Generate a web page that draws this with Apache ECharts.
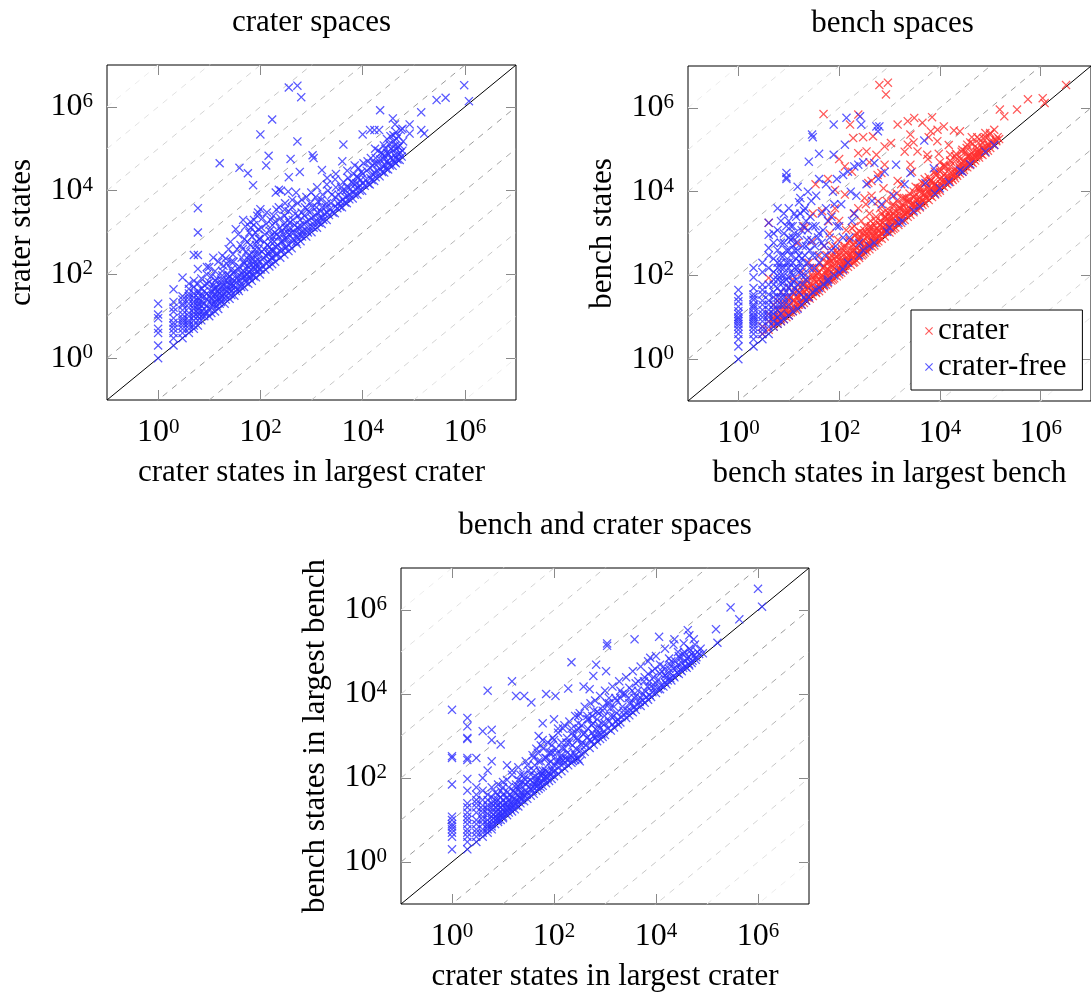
<!DOCTYPE html>
<html>
<head>
<meta charset="utf-8">
<script src="https://cdn.jsdelivr.net/npm/echarts@6/dist/echarts.min.js"></script>
<style>
  html, body { margin: 0; padding: 0; background: #fff; }
  #chart { width: 1091px; height: 994px; }
</style>
</head>
<body>
<div id="chart"></div>
<script>
// tick positions shared by every axis
var tickValues = [1, 100, 1e4, 1e6];
// offsets (in decades) of the dashed guide lines y = x * 10^k
var diagOffsets = [-7, -6, -5, -4, -3, -2, -1, 1, 2, 3, 4, 5, 6, 7];

// crater spaces: [crater states in largest crater, crater states]
var craterPts = [
  [1,1],[1,2],[1,4],[1,5],[1,9],[1,11],[1,20],
  [2,2],[2,3],[2,4],[2,5],[2,6],[2,9],[2,13],[2,22],[2,44],[2,7],[2,16],
  [3,3],[3,4],[3,5],[3,7],[3,8],[3,11],[3,14],[3,18],[3,25],[3,30],[3,84],[3,6],[3,9],[3,20],
  [4,4],[4,5],[4,6],[4,8],[4,12],[4,16],[4,20],[4,30],[4,45],[4,60],[4,7],[4,10],[4,25],[4,35],
  [5,5],[5,6],[5,8],[5,10],[5,15],[5,22],[5,35],[5,50],[5,70],[5,290],[5,12],[5,18],[5,28],
  [6,6],[6,8],[6,10],[6,14],[6,20],[6,28],[6,40],[6,60],[6,135],[6,290],[6,1000],[6,3800],[6,12],[6,17],[6,24],[6,35],
  [7,8],[8,10],[8,12],[7,18],[9,25],[8,40],[7,80],[9,150],[7,10],[7,13],[7,22],[7,30],[7,45],
  [8,15],[8,20],[8,30],[8,55],[9,12],[9,18],[9,35],[9,60],[9,100],
  [10,10],[11,12],[10,15],[11,20],[10,30],[12,45],[10,65],[11,90],[10,150],[12,250],[11,25],[11,38],[12,20],[12,30],
  [13,13],[12,17],[14,25],[13,35],[12,55],[14,80],[13,120],[13,22],[13,45],[13,70],[14,18],[14,30],[14,50],
  [15,15],[16,20],[17,28],[15,40],[16,60],[18,95],[15,200],[16,45000],[16,25],[16,35],[17,22],[17,50],[17,75],
  [18,30],[18,42],[18,120],[19,55],[21,30],[22,40],[23,65],[24,35],[24,80],[26,55],[27,40],[28,75],[29,110],[22,180],[18,280],[27,200],
  [20,20],[21,25],[19,35],[22,50],[20,70],[23,100],[19,160],[21,240],[24,400],
  [25,26],[27,32],[26,45],[28,60],[25,90],[27,130],[29,300],[26,600],
  [31,31],[33,40],[30,55],[34,80],[32,120],[30,200],[35,400],[33,1200],
  [32,48],[34,65],[36,45],[37,90],[38,130],[42,60],[44,85],[46,120],[48,180],[52,75],[55,100],[56,160],[58,230],
  [38,40],[42,50],[40,70],[44,100],[39,150],[43,250],[41,500],[37,900],[39,35000],
  [48,50],[52,65],[50,90],[55,130],[47,200],[53,350],[49,700],[51,1400],[46,2000],
  [58,60],[62,80],[60,110],[65,170],[59,280],[63,500],[61,1000],[57,26000],[64,1800],
  [62,90],[65,130],[66,210],[68,320],[74,90],[76,130],[78,200],[80,300],[82,500],[88,150],[90,220],[92,400],[94,700],[96,130],
  [45,400],[55,600],[65,1300],[75,2000],[90,3000],[80,1000],
  [68,70],[72,100],[75,150],[70,250],[78,400],[69,800],[74,1500],[72,13500],
  [82,85],[88,120],[85,180],[90,300],[84,600],[92,1200],[87,2500],
  [98,100],[103,130],[100,200],[108,350],[97,700],[105,1300],[110,2200],[100,3600],[100,220000],
  [110,160],[115,250],[118,400],[120,600],[140,200],[145,300],[150,450],[155,800],[165,250],[175,350],[185,600],[190,1000],
  [125,130],[132,180],[128,280],[136,500],[122,900],[130,1600],[134,3000],[130,40000],
  [150,155],[155,220],[148,350],[160,600],[152,1100],[158,2000],[145,68000],
  [170,175],[176,250],[168,400],[180,800],[172,1500],[170,500000],
  [195,200],[205,280],[200,450],[210,900],[198,1800],[206,3500],[200,9000],
  [210,320],[220,500],[230,800],[240,1300],[260,400],[270,600],[280,900],[290,1600],[320,450],[330,700],[340,1000],[350,2000],
  [245,250],[255,350],[250,600],[260,1100],[248,2200],[252,10000],
  [295,300],[305,420],[300,700],[310,1300],[298,2500],[304,5000],
  [355,360],[365,500],[360,900],[370,1700],[358,3200],[360,21000],[360,2.9e6],
  [380,1300],[430,700],[450,1000],[470,1500],[480,2800],[500,600],[560,900],[580,1200],[600,2000],
  [650,800],[680,1100],[700,1600],[720,2500],[750,4000],[850,1000],[880,1400],[900,2000],[920,3000],[950,5000],
  [180,2500],[230,4000],[300,3500],[420,6000],[650,6000],[500,9000],[350,9500],[230,10500],
  [410,420],[420,600],[405,1000],[430,2000],[415,4000],[390,57000],
  [520,530],[540,750],[525,1300],[550,2500],[535,5000],[530,150000],[530,3.2e6],
  [610,620],[620,900],[600,1500],[640,3000],[590,28000],[630,1.7e6],
  [790,800],[810,1100],[800,1800],[820,3500],[795,7000],
  [1000,1020],[1030,1400],[1010,2200],[1050,4000],[990,9000],[1050,70000],[1100,60000],
  [1100,1300],[1150,1800],[1200,2500],[1250,4000],[1400,1700],[1450,2300],[1500,3200],[1550,6000],[1700,2000],[1800,2800],[1900,4000],
  [1280,1300],[1320,1800],[1300,3000],[1340,5500],[1290,12000],
  [1580,1600],[1620,2300],[1600,4000],[1650,8000],[1600,31000],
  [1980,2000],[2050,3000],[2000,5000],[2100,10000],[2020,20000],
  [2200,2600],[2300,3600],[2400,5000],[2500,8000],[2600,3000],[3200,3800],[3300,5000],[3400,8000],[3600,4200],[3700,5500],[3800,12000],
  [2850,2900],[2950,4200],[2900,7000],[3000,12000],[2900,18500],
  [3950,4000],[4100,6000],[4000,10000],[4200,16000],[4000,50000],[4200,126000],
  [4500,5200],[4600,7000],[4700,10000],[5500,6200],[5600,8000],[5800,11000],[6000,16000],[7000,8000],[7200,11000],[7500,15000],[7800,22000],
  [8800,10000],[9000,13000],[9200,18000],[9500,28000],[1200,7000],[2000,14000],[3000,25000],[5000,30000],[7000,40000],
  [4900,5000],[5100,7500],[5000,12000],[5200,20000],
  [6400,6500],[6600,9000],[6500,15000],[6700,25000],
  [7900,8000],[8100,12000],[8000,20000],[8300,35000],
  [9800,10000],[10200,15000],[10000,25000],[10400,45000],[10000,220000],
  [11000,13000],[11500,18000],[12000,30000],[12500,50000],[13000,14500],[15000,18000],[15500,25000],[16000,40000],
  [13800,14000],[14200,20000],[14000,35000],[14500,60000],[14000,280000],
  [16800,17000],[17200,26000],[17000,45000],[17500,100000],[17000,280000],
  [18000,21000],[19000,30000],[20000,45000],[20000,90000],[24000,28000],[25000,38000],[26000,55000],[26000,120000],
  [21500,22000],[22500,32000],[22000,55000],[23000,80000],[22000,830000],[21000,280000],
  [26500,27000],[27500,40000],[27000,65000],[28000,100000],
  [29000,33000],[30000,50000],[30000,80000],[34000,40000],[35000,60000],[36000,100000],
  [31500,32000],[32500,45000],[32000,75000],[33000,130000],
  [38500,39000],[39500,55000],[39000,90000],[40000,150000],[39000,530000],[40000,210000],
  [42000,48000],[42000,70000],[43000,120000],[48000,55000],[50000,75000],[50000,110000],[58000,65000],[60000,90000],[62000,150000],
  [45000,250000],[35000,200000],[30000,170000],[50000,200000],[60000,300000],[18000,60000],[25000,75000],
  [44500,45000],[45500,60000],[45000,100000],[46000,170000],[43000,380000],
  [53000,54000],[55000,80000],[54000,120000],[56000,280000],
  [83000,380000],[83000,230000],[140000,740000],[140000,280000],[160000,230000],
  [280000,1.45e6],[420000,1.65e6],[970000,3.3e6],[1.2e6,1.37e6]
];

// bench spaces, crater: [bench states in largest bench, bench states]
var benchCraterPts = [
  [3,4],[3,6],[4,5],[4,8],[4,12],[4,87],[4,1800],[5,6],[5,10],[5,20],
  [6,7],[6,9],[6,14],[6,25],[7,8],[7,12],[7,20],[7,40],[8,9],[8,15],
  [9,10],[9,14],[9,30],[10,11],[10,18],[10,50],[11,13],[12,14],[12,25],[12,80],
  [14,15],[14,22],[14,40],[15,17],[16,30],[16,60],[18,20],[18,35],[18,120],[20,22],
  [20,40],[20,70],[22,25],[24,30],[24,50],[25,200],[26,28],[28,45],[30,32],[30,60],
  [30,100],[34,15000],[35,38],[35,70],[36,150],[40,42],[40,80],[40,300],[45,48],[45,100],
  [49,710000],[50,55],[50,90],[50,500],[55,60],[55,130],[60,65],[60,100],[60,200],[65,1000],
  [70,75],[70,120],[70,300],[75,80],[80,85],[80,150],[83,11000],[85,400],[90,95],[90,200],
  [100,105],[100,150],[100,250],[100,2000],[110,115],[110,180],[120,130],[120,300],[130,40000],[130,140],
  [140,200],[150,160],[150,250],[150,600],[165,400000],[170,180],[180,300],[190,200],[200,210],[200,400],
  [200,1500],[220,230],[240,690000],[240,83000],[240,300],[250,260],[250,500],[280,300],[300,320],[300,700],
  [320,350],[350,380],[350,1000],[380,16000],[400,420],[400,600],[400,3000],[450,480],[500,520],[500,900],
  [550,76000],[550,600],[600,650],[600,1200],[630,3.5e6],[690,28000],[700,750],[800,44000],[800,850],[850,2.1e6],
  [930,4e6],[900,1500],[1000,1050],[1000,2000],[1070,145000],[1100,1200],[1200,1300],[1200,3000],[1300,1400],[1450,400000],
  [1500,1600],[1500,2500],[1700,1800],[1800,5000],[2000,2100],[2000,3000],[2300,480000],[2300,2500],[2500,4000],[2600,2800],
  [3000,3200],[3000,5000],[3000,10000],[3500,3700],[3500,6000],[4000,4200],[4000,7000],[4500,440000],[4500,4800],[5000,5300],
  [5000,9000],[5000,20000],[6000,6300],[6000,10000],[7000,600000],[7000,7400],[7000,12000],[8000,8500],[8000,15000],[8000,30000],
  [9000,9500],[10000,10500],[10000,20000],[10000,50000],[12000,360000],[12000,13000],[12000,25000],[14000,15000],[14000,30000],[16000,17000],
  [16000,40000],[18000,19000],[19000,290000],[20000,21000],[20000,35000],[22000,24000],[22000,60000],[25000,275000],[25000,27000],[25000,45000],
  [28000,30000],[28000,100000],[30000,33000],[30000,55000],[35000,38000],[35000,70000],[40000,43000],[40000,150000],[45000,48000],[45000,90000],
  [50000,55000],[50000,120000],[55000,200000],[60000,65000],[60000,100000],[70000,75000],[70000,150000],[80000,85000],[80000,200000],[90000,95000],
  [100000,110000],[100000,250000],[120000,130000],[120000,300000],[155000,910000],[190000,630000],[340000,910000],[560000,1.6e6],[1.1e6,1.7e6],[1.2e6,1.3e6],[3.2e6,3.5e6],
  [130,170],[160,220],[190,260],[230,300],[270,380],[330,420],[380,520],[450,600],[520,700],[620,800],
  [700,1000],[820,1100],[950,1300],[1100,1600],[1300,1800],[1600,2200],[1900,2600],[2200,3200],[2700,3800],[3200,4500],
  [3800,5500],[4400,6200],[5200,7500],[6200,8800],[7400,10000],[8800,12500],[10500,15000],[12500,18000],[15000,21000],[18000,26000],
  [21000,30000],[25000,36000],[30000,42000],[36000,50000],[42000,60000],[50000,70000],[60000,85000],[75000,100000],[90000,130000],[110000,160000],
  [150,300],[250,700],[400,1100],[650,1600],[1000,2500],[1600,4000],[2500,6500],[4000,12000],[6500,18000],[10000,30000],
  [5,7],[5,9],[6,8],[6,11],[7,9],[7,15],[8,11],[8,20],[9,12],[9,20],[10,13],[10,25],[11,15],[11,30],[12,16],[12,40],
  [13,17],[13,25],[14,30],[15,20],[15,45],[16,20],[17,23],[17,35],[18,25],[19,45],[21,28],[21,50],[23,30],[23,70],
  [25,32],[25,90],[27,36],[27,60],[29,40],[29,150],[32,45],[32,80],[34,40],[37,50],[37,110],[39,60],[42,55],[42,200],
  [44,70],[47,60],[47,150],[52,70],[53,110],[57,80],[58,300],[62,80],[63,130],[67,90],[68,220],[72,100],[73,500],
  [77,110],[78,180],[85,120],[86,280],[92,130],[95,700],[105,140],[108,220],[112,160],[115,350],[125,170],[128,450],
  [135,200],[138,1200],[145,220],[160,300],[165,700],[175,250],[185,400],[195,3000],[210,300],[215,600],[225,1000],
  [235,350],[260,380],[265,800],[275,2000],[290,420],[310,500],[315,1200],[330,450],[340,5000],[360,520],[370,900],
  [390,600],[420,700],[430,1500],[440,8000],[470,650],[480,1100],[520,750],[530,2000],[560,800],[570,1300],[580,25000],
  [620,900],[640,1600],[650,4000],[720,1000],[740,1800],[760,12000],[780,1100],[820,1300],[840,2500],[870,1200],[880,6000],
  [960,1400],[980,3000],[1050,1400],[1080,2500],[1150,1600],[1180,5000],[1250,1800],[1280,3500],[1350,2000],[1400,9000],
  [1550,2100],[1580,4000],[1650,2300],[1700,15000],[1850,2600],[1900,4500],[2100,2800],[2150,7000],[2400,3300],[2450,5500],
  [2700,3600],[2800,30000],[3100,4200],[3200,8000],[3400,4500],[3600,5000],[3700,12000],[4200,5500],[4300,9000],[4800,6000],
  [4900,15000],[5500,7000],[5600,12000],[5800,60000],[6500,8000],[6600,18000],[7500,9500],[7600,14000],[8500,11000],[8600,25000],
  [9500,12000],[9500,80000],[11000,14000],[11000,22000],[13000,16000],[13000,40000],[15000,19000],[15000,130000],[17000,21000],
  [17000,50000],[19000,24000],[21000,26000],[21000,80000],[23000,30000],[26000,33000],[26000,60000],[29000,38000],[32000,40000],
  [32000,90000],[37000,45000],[38000,70000],[42000,52000],[43000,200000],[47000,60000],[52000,65000],[55000,90000],[58000,75000],
  [65000,80000],[65000,130000],[75000,95000],[85000,110000],[95000,130000],[110000,140000],[130000,170000],[140000,200000],[150000,180000],
  [6000,200000],[3000,150000],[9000,300000],[2000,90000],[800,120000],[400,50000],[300,200000],[180,30000],[100,60000],[60,20000],
  [30,3000],[20,1500],[15,600],
  [20,60],[25,50],[30,90],[35,100],[40,120],[45,90],[50,160],[55,200],[60,140],[65,250],[70,180],[80,250],[90,350],[100,300],
  [110,450],[120,220],[130,500],[140,350],[160,650],[170,400],[190,550],[200,900],[220,450],[240,800],[260,1100],[280,600],
  [300,1000],[330,1500],[360,800],[400,1400],[420,2000],[460,900],[500,1600],[540,2500],[600,1100],[650,2000],[700,3000],
  [750,1400],[800,2500],[850,3500],[900,1800],[1000,3500],[1100,2000],[1200,4500],[1300,2600],[1400,6000],[1500,3000],
  [1700,4000],[1800,7000],[2000,3500],[2200,6000],[2500,9000],[2700,5000],[3000,7500],[3300,13000],[3600,6500],[4000,10000],
  [4500,16000],[5000,8500],[5500,13000],[6000,22000],[7000,11000],[7500,17000],[8000,26000],[9000,14000],[10000,35000],
  [11000,18000],[12000,40000],[14000,24000],[16000,55000],[18000,30000],[20000,70000],[24000,40000],[27000,90000],[30000,50000],
  [34000,110000],[40000,65000],[45000,140000],[55000,85000],[60000,180000],[70000,110000],[80000,250000],[100000,160000],
  [2600,230000],[2300,132000],[3600,91000],[2600,44000],[5600,76000],[8900,160000],[72000,190000],[98000,230000],[132000,160000],
  [1450,18000],[320,7000],[590,5900],[240,4000],[130,8500],[83,4000],[62,1950],[46,3400],[29,650],[21,1350],
  [1080,8500],[1950,7000],[4200,12300],[6600,18000],[12000,44000],[16000,76000],[35000,132000],[40000,76000],
  [3100,575000],[6600,275000],[470,210000],[350,91000],[190,190000],[72,2800],[180,1350],[440,1350],[800,2300],[440,18000]
];

// bench spaces, crater-free: [bench states in largest bench, bench states]
var benchFreePts = [
  [1,1],[1,2],[1,3],[1,4],[1,5],[1,6],[1,7],[1,8],[1,10],[1,14],[1,24],[1,45],[1,9],[1,12],[1,18],[1,30],
  [2,2],[2,3],[2,4],[2,5],[2,6],[2,8],[2,10],[2,13],[2,16],[2,20],[2,26],[2,50],[2,90],[2,150],
  [2,7],[2,9],[2,11],[2,18],[2,30],[2,35],
  [3,3],[3,5],[3,8],[3,12],[3,20],[3,35],[3,60],[3,4],[3,6],[3,10],[3,15],[3,25],[3,45],[3,120],[3,200],
  [4,4],[4,6],[4,10],[4,15],[4,25],[4,450],[4,930],[4,1800],[4,8],[4,12],[4,20],[4,35],[4,60],[4,150],[4,300],
  [5,6],[5,12],[5,20],[5,40],[5,80],[5,1000],[5,8],[5,15],[5,30],[5,60],[5,120],[5,250],[5,600],
  [6,7],[6,15],[6,30],[6,100],[6,200],[6,4000],[6,10],[6,20],[6,50],[6,80],[6,150],[6,400],[6,1200],
  [7,8],[7,12],[7,40],[7,70],[7,150],[7,300],[7,20],[7,30],[7,100],[7,200],[7,600],[7,2000],
  [8,9],[8,20],[8,50],[8,100],[8,600],[9,28000],[9,22000],[8,30],[8,70],[8,150],[8,300],[8,1000],[8,3000],
  [9,40],[9,80],[9,200],[9,400],[9,1500],[9,20000],
  [10,11],[10,30],[10,90],[10,200],[10,2000],[11,1500],[10,20],[10,50],[10,150],[10,400],[10,800],[10,4000],
  [11,60],[11,120],[11,300],[11,700],[12,100],[12,200],[12,500],[12,1500],
  [12,14],[12,40],[12,70],[12,800],[13,3000],[13,50],[13,150],[13,400],[13,1000],[14,80],[14,250],[14,600],[14,2500],
  [15,13000],[15,16],[15,60],[15,150],[15,400],[16,5600],[17,7000],[16,40],[16,120],[16,300],[16,900],[17,200],[17,3000],
  [18,20],[18,100],[18,250],[18,1200],[20,3500],[19,60],[19,150],[19,500],[19,1500],[21,100],[21,300],[21,4000],
  [22,25],[22,80],[22,500],[22,2000],[25,52000],[29,230000],[30,200000],[23,200],[23,700],[24,1200],[24,10000],
  [25,30],[26,150],[28,700],[30,40],[30,300],[30,1500],[26,400],[27,2500],[28,6000],
  [35,8000],[40,80000],[40,50],[40,200],[40,1000],[45,3000],[32,150],[33,500],[34,1500],[36,300],[38,800],[40,20000],
  [50,60],[50,500],[55,15000],[60,80],[60,2000],[70,400],[45,600],[48,1200],[52,300],[55,4000],[65,800],[70,2500],[75,10000],
  [78,400000],[78,76000],[80,100],[80,5000],[90,20000],[100,120],[100,1500],[85,500],[90,1500],[110,5000],[120,25000],
  [130,132000],[140,580000],[120,800],[150,200],[150,30000],[170,10000],[160,800],[180,2000],[200,40000],[220,8000],
  [240,44000],[260,630000],[275,400000],[200,3000],[250,600],[300,50000],[350,15000],[450,6000],[700,5000],[800,30000],[1200,8000],
  [300,400],[400,500],[500,48000],[550,360000],[630,360000],[590,275000],[600,20000],
  [1000,1400],[1350,44000],[1500,1800],[2000,15000],[2600,28000],[3000,3500],
  [4900,166000],[5200,16000],[7600,36000],[10000,12000],[28000,30000],[25000,32000],[120000,130000],[80000,90000],
  [20,30],[35,45],[60,70],[120,140],[250,300],[500,600],[900,1100],[1800,2000],[4000,4500],[8000,9000],[15000,17000],[40000,45000]
];

// bench and crater spaces: [crater states in largest crater, bench states in largest bench]
var benchAndCraterPts = [
  [1,2],[1,4],[1,5],[1,6],[1,7],[1,8],[1,10],[1,12],[1,70],[1,300],[1,330],[1,4200],
  [2,2],[2,3],[2,4],[2,5],[2,6],[2,15],[2,20],[2,25],[2,50],[2,95],[2,270],[2,300],[2,850],[2,900],[2,1700],[2,2700],
  [2,8],[2,10],[2,12],
  [3,3],[3,4],[3,5],[3,10],[3,15],[3,25],[3,40],[3,60],[3,300],[3,6],[3,8],[3,20],[3,30],
  [4,4],[4,5],[4,8],[4,12],[4,18],[4,30],[4,1300],[4,100],[4,6],[4,10],[4,15],[4,22],[4,50],
  [5,5],[5,7],[5,10],[5,14],[5,22],[5,40],[5,12000],[5,150],[5,6],[5,8],[5,18],[5,30],
  [6,6],[6,8],[6,12],[6,20],[6,35],[6,60],[6,250],[6,800],[6,1400],[6,7],[6,10],[6,15],[6,25],
  [7,8],[7,10],[7,15],[7,25],[7,45],[8,9],[8,11],[8,18],[8,30],[8,70],[7,12],[7,20],[7,30],[8,10],[8,14],[8,22],[8,40],
  [9,10],[9,13],[9,20],[9,35],[9,630],[10,11],[10,14],[10,22],[10,40],[10,80],[9,15],[9,25],[9,50],
  [10,12],[10,18],[10,30],[11,15],[11,25],[12,20],[12,35],[13,20],[14,18],[14,25],[14,40],
  [12,13],[12,17],[12,25],[12,45],[12,200],[13,15],[13,30],[13,60],
  [15,16],[15,20],[15,35],[15,20000],[15,150],[17,18],[17,25],[17,45],[18,9000],
  [16,22],[16,30],[16,50],[18,22],[18,30],[18,60],[19,40],[21,35],[21,60],[23,30],[23,45],[24,80],[25,35],[27,50],[28,70],[29,40],
  [20,21],[20,28],[20,50],[20,90],[22,25],[22,35],[22,70],[22,120],
  [26,9000],[26,28],[26,40],[26,100],[30,32],[30,45],[30,80],[30,200],[36,6300],
  [33,60],[34,90],[38,50],[38,80],[42,70],[43,110],[48,65],[48,90],[52,75],[53,140],[58,80],[58,130],
  [35,38],[35,55],[35,120],[40,42],[40,60],[40,150],[40,300],[45,50],[45,80],[45,500],
  [50,55],[50,100],[50,250],[50,1000],[55,60],[55,120],[55,600],[60,65],[60,150],[60,2000],
  [62,100],[66,90],[68,150],[72,140],[75,100],[78,220],[85,120],[88,250],[95,140],[95,400],
  [70,75],[70,110],[70,300],[70,10000],[80,85],[80,130],[80,400],[90,95],[90,160],[90,600],
  [107,9000],[100,110],[100,200],[100,800],[100,2500],[120,125],[120,250],[120,1200],
  [105,150],[110,250],[115,400],[125,180],[135,300],[145,500],[155,220],[170,300],[175,700],[185,400],
  [130,250],[150,260],[180,270],[200,280],[230,260],[260,270],[300,280],[320,250],
  [140,145],[140,350],[160,170],[160,500],[190,13500],[190,200],[200,700],[220,57000],[220,230],[220,1500],
  [210,350],[230,600],[240,1000],[260,350],[270,500],[290,800],[310,1500],[330,450],[360,700],[380,1100],
  [250,400],[280,300],[280,900],[300,2000],[350,370],[350,600],[380,15000],[400,420],[400,1200],[450,3000],
  [420,600],[440,900],[460,1500],[480,2500],[550,750],[560,1200],[580,2000],[650,900],[680,1400],[720,1100],[750,1800],[760,3500],
  [500,13000],[500,520],[500,800],[550,1800],[590,27000],[600,620],[600,1000],[670,50000],[700,750],[700,2500],
  [850,1100],[880,2000],[950,1300],[980,3000],[1150,1500],[1200,2200],[1250,4500],[1400,1900],[1450,3000],[1650,2200],[1700,3500],[1700,7000],
  [800,850],[800,1500],[900,950],[900,4000],[1050,35000],[1100,160000],[1100,140000],[1000,1050],[1000,2000],[1100,6000],
  [1300,1350],[1300,3000],[1500,1600],[1500,5000],[1800,1900],[1800,2500],[2000,2100],[2000,8000],[2300,4000],[2600,2700],
  [2100,2800],[2200,5000],[2400,3200],[2500,10000],[2800,4000],[2900,8000],[3200,4000],[3300,6000],[3700,5000],[3800,8000],
  [3000,3100],[3000,6000],[3400,12000],[3500,3700],[3800,200000],[4000,4200],[4000,9000],[4500,20000],[5000,5200],[5000,8000],
  [4300,5500],[4400,12000],[4800,6500],[5500,7000],[5600,10000],[5800,20000],[6500,8500],[6800,15000],[7500,9500],[7500,20000],
  [6000,6200],[6000,12000],[7000,7300],[7700,73000],[7000,30000],[8000,8500],[8000,15000],[9000,25000],[10000,10500],[10000,18000],
  [8500,11000],[9000,14000],[9500,40000],[11000,13000],[11000,22000],[12500,16000],[13000,35000],[15000,19000],[15000,28000],
  [11500,230000],[12000,13000],[12000,30000],[14000,15000],[14000,45000],[16000,17000],[16000,25000],[18000,40000],[20000,21000],[20000,60000],
  [17000,21000],[17000,32000],[19000,24000],[19000,50000],[22000,27000],[22000,40000],[24000,60000],[26000,32000],[27000,50000],
  [23000,200000],[23000,25000],[25000,40000],[28000,30000],[28000,80000],[32000,35000],[32000,55000],[36000,100000],[40000,42000],[40000,70000],
  [30000,38000],[30000,70000],[34000,42000],[34000,90000],[38000,45000],[38000,60000],[44000,52000],[44000,75000],[48000,110000],
  [42000,330000],[45000,48000],[45000,120000],[50000,55000],[50000,90000],[55000,200000],[60000,65000],[65000,100000],[83000,93000],
  [52000,62000],[55000,80000],[58000,150000],[62000,75000],[70000,90000],[75000,120000],
  [2000,12000],[1200,8000],[600,4000],[300,3000],[150,1500],[60,800],
  [10,60],[12,90],[15,120],[18,70],[20,180],[25,120],[28,250],[32,150],[38,350],[42,200],[48,400],[55,250],[62,500],[68,300],
  [75,700],[85,400],[95,900],[110,500],[120,1500],[140,700],[160,1800],[180,900],[200,2200],[230,1200],[260,3000],[280,1400],
  [320,3500],[350,1800],[400,5000],[450,2500],[520,6000],[560,3000],[640,7000],[700,3800],[800,9000],[900,5000],[1000,12000],
  [1200,6000],[1400,15000],[1600,8000],[1900,20000],[2200,10000],[2600,25000],[3000,14000],[3500,35000],[4000,18000],
  [5000,45000],[6000,25000],[7000,60000],[8500,35000],[10000,80000],[12000,50000],[15000,120000],[18000,70000],[22000,150000],
  [27000,100000],[35000,160000],[45000,250000],
  [150000,350000],[160000,166000],[290000,1.15e6],[430000,600000],[1e6,3.2e6],[1.2e6,1.2e6]
];

var FONT = 'Liberation Serif, Times New Roman, serif';
var BLUE = '#3030ff';
var RED = '#ff3030';
var CROSS = 'path://M0,1L1,0L5,4L9,0L10,1L6,5L10,9L9,10L5,6L1,10L0,9L4,5Z';
var gridBoxes = [
  {left: 107, top: 65, width: 409, height: 335},
  {left: 688, top: 66, width: 409, height: 335},
  {left: 401, top: 568, width: 408, height: 336}
];

function powLabel(v) {
  var e = Math.round(Math.log(v) / Math.LN10);
  return '{b|10}{s|' + e + '}';
}
var labelRich = {
  b: {fontFamily: FONT, fontSize: 32, color: '#000', lineHeight: 32, verticalAlign: 'middle'},
  s: {fontFamily: FONT, fontSize: 21, color: '#000', lineHeight: 32, verticalAlign: 'top'}
};

function makeAxis(gi, pos, name) {
  var isX = pos === 'bottom' || pos === 'top';
  var main = pos === 'bottom' || pos === 'left';
  return {
    type: 'log', logBase: 10, min: 0.1, max: 1e7,
    gridIndex: gi, position: pos,
    name: main ? name : '',
    nameLocation: 'middle',
    nameGap: isX ? 57 : 70,
    nameTextStyle: {fontFamily: FONT, fontSize: 31, color: '#000'},
    axisLine: {show: false},
    splitLine: {show: false},
    axisTick: {show: true, inside: true, length: 10, customValues: tickValues,
      lineStyle: {color: '#8a8a8a', width: 1}},
    axisLabel: {show: main, customValues: tickValues, margin: isX ? 17 : 14,
      formatter: powLabel, rich: labelRich}
  };
}

var names = [
  ['crater states in largest crater', 'crater states'],
  ['bench states in largest bench', 'bench states'],
  ['crater states in largest crater', 'bench states in largest bench']
];
var titles = ['crater spaces', 'bench spaces', 'bench and crater spaces'];

var xAxes = [], yAxes = [], grids = [], series = [], graphics = [];
gridBoxes.forEach(function (b, gi) {
  grids.push({left: b.left, top: b.top, width: b.width, height: b.height,
    show: true, borderColor: '#000', borderWidth: 1, backgroundColor: '#fff'});
  xAxes.push(makeAxis(gi, 'bottom', names[gi][0]));
  xAxes.push(makeAxis(gi, 'top', ''));
  yAxes.push(makeAxis(gi, 'left', names[gi][1]));
  yAxes.push(makeAxis(gi, 'right', ''));
  graphics.push({type: 'text', x: b.left + b.width / 2, y: b.top - 42,
    style: {text: titles[gi], font: '31px ' + FONT, fill: '#000',
      align: 'center', verticalAlign: 'middle'}});

  diagOffsets.forEach(function (k) {
    var a = Math.abs(k);
    var shade = [0, 0x9a, 0xa8, 0xb6, 0xc6, 0xd4, 0xe2, 0xec][a];
    var c = 'rgb(' + shade + ',' + shade + ',' + shade + ')';
    var f = Math.pow(10, k);
    series.push({type: 'line', xAxisIndex: gi * 2, yAxisIndex: gi * 2,
      data: [[0.1, 0.1 * f], [1e7, 1e7 * f]], symbol: 'none', silent: true,
      lineStyle: {color: c, width: 1, type: [6, 6]}, z: 1});
  });
  series.push({type: 'line', xAxisIndex: gi * 2, yAxisIndex: gi * 2,
    data: [[0.1, 0.1], [1e7, 1e7]], symbol: 'none', silent: true,
    lineStyle: {color: '#000', width: 1}, z: 1});
});

function scatter(name, gi, data, color) {
  return {type: 'scatter', name: name, xAxisIndex: gi * 2, yAxisIndex: gi * 2,
    data: data, symbol: CROSS, symbolSize: 9, itemStyle: {color: color}, z: 3};
}
series.push(scatter('crater spaces', 0, craterPts, BLUE));
series.push(scatter('crater', 1, benchCraterPts, RED));
series.push(scatter('crater-free', 1, benchFreePts, BLUE));
series.push(scatter('bench and crater spaces', 2, benchAndCraterPts, BLUE));

var chart = echarts.init(document.getElementById('chart'));
chart.setOption({
  animation: false,
  backgroundColor: '#fff',
  grid: grids,
  xAxis: xAxes,
  yAxis: yAxes,
  legend: {
    data: [{name: 'crater', icon: CROSS}, {name: 'crater-free', icon: CROSS}],
    orient: 'vertical', left: 911, top: 310,
    itemWidth: 8, itemHeight: 8, itemGap: 2,
    padding: [4, 16, 6, 14],
    borderColor: '#000', borderWidth: 1, backgroundColor: '#fff',
    selectedMode: false,
    textStyle: {fontFamily: FONT, fontSize: 31, color: '#000', lineHeight: 34}
  },
  graphic: graphics,
  series: series
});
</script>
</body>
</html>
